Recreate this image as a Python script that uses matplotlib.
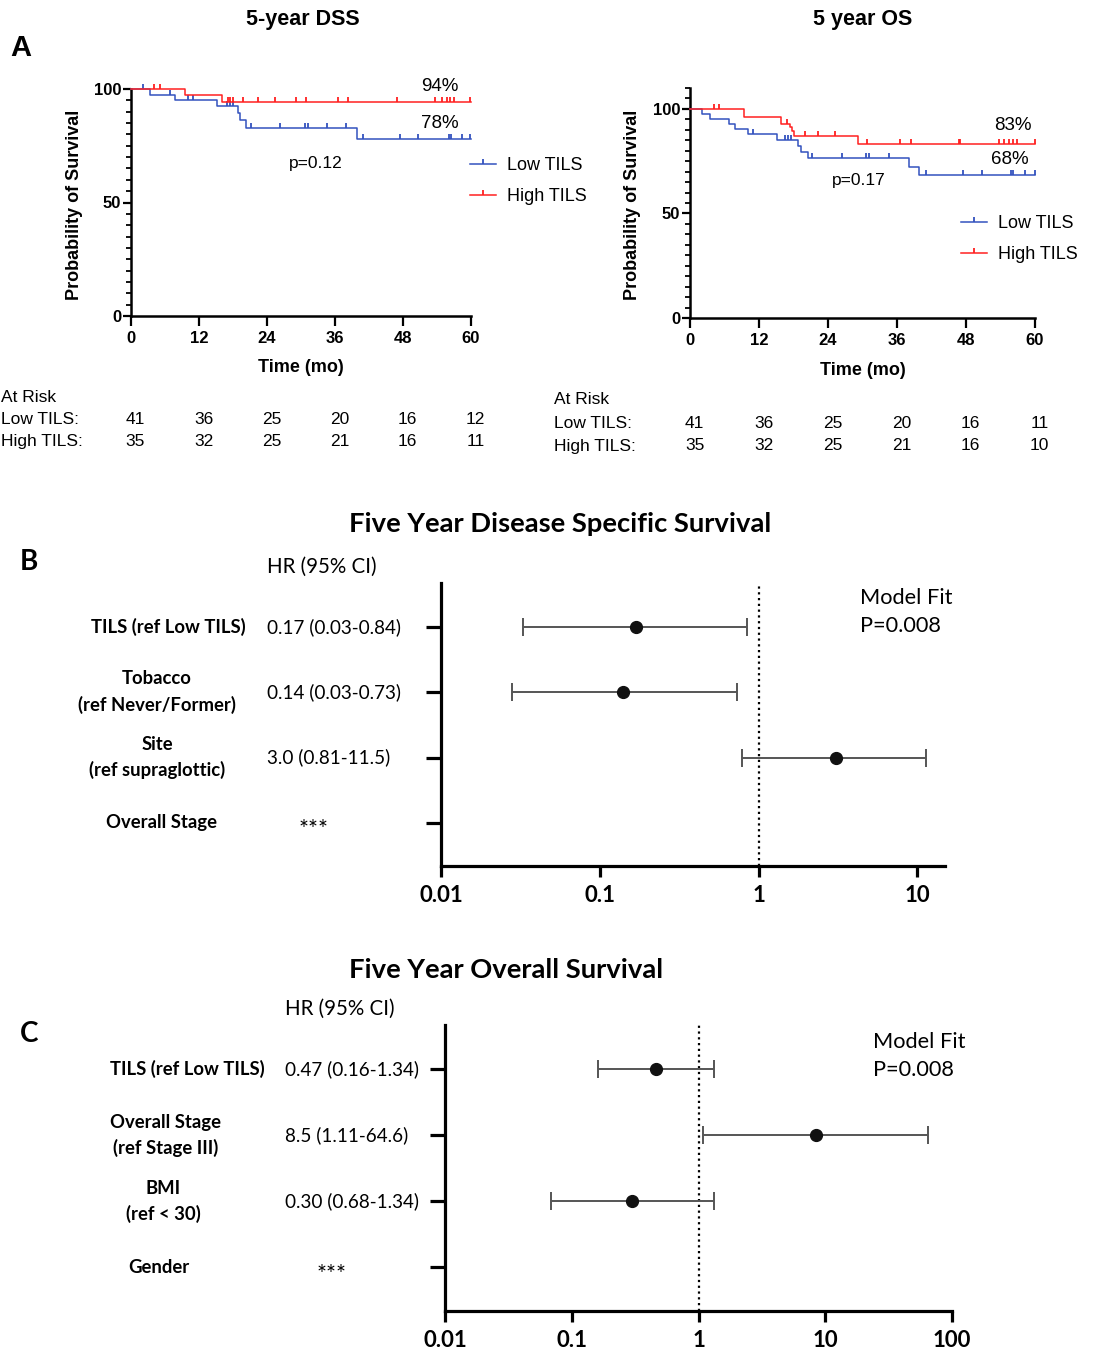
import numpy as np
import matplotlib
matplotlib.use('Agg')
import matplotlib.pyplot as plt
from matplotlib.lines import Line2D
from matplotlib.ticker import MultipleLocator, NullLocator
from matplotlib.transforms import blended_transform_factory

# ---- Kaplan-Meier data ----
dss_low_t = [0, 3.4, 7.7, 15.1, 18.8, 19.3, 20.3, 39.8]
dss_low_s = [100, 97.5, 95.0, 92.4, 89.6, 86.3, 83.0, 77.8]
dss_low_cens = [2.1, 6.9, 10.0, 10.9, 16.9, 17.4, 18.0, 21.2, 26.3, 30.7, 31.3,
                34.6, 37.9, 40.9, 47.4, 50.7, 56.2, 56.5, 58.4, 59.9]
dss_high_t = [0, 9.5, 16.0]
dss_high_s = [100, 97.2, 94.2]
dss_high_cens = [4.1, 5.1, 17.1, 17.5, 18.0, 19.8, 22.4, 25.4, 29.1, 30.9, 36.6,
                 38.3, 46.9, 53.6, 54.8, 55.7, 56.3, 57.0, 59.8]

os_low_t = [0, 2.0, 3.5, 6.8, 7.8, 10.0, 15.1, 18.8, 19.3, 20.5, 38.0, 39.9]
os_low_s = [100, 97.6, 95.1, 92.7, 90.2, 87.8, 85.3, 82.3, 79.3, 76.3, 72.4, 68.4]
os_low_cens = [10.9, 16.5, 17.0, 17.5, 21.3, 26.4, 30.6, 31.2, 34.6, 41.0, 47.4,
               50.7, 55.9, 56.2, 58.3, 60.0]
os_high_t = [0, 9.4, 15.9, 17.4, 17.7, 18.0, 29.3]
os_high_s = [100, 96.0, 93.0, 91.2, 89.2, 87.0, 83.2]
os_high_cens = [4.2, 5.1, 16.8, 20.0, 22.3, 25.3, 30.8, 36.5, 38.4, 46.8, 47.0,
                53.7, 54.6, 55.4, 56.1, 56.8, 60.0]

risk_times = [0, 12, 24, 36, 48, 60]
dss_risk_low = [41, 36, 25, 20, 16, 12]
dss_risk_high = [35, 32, 25, 21, 16, 11]
os_risk_low = [41, 36, 25, 20, 16, 11]
os_risk_high = [35, 32, 25, 21, 16, 10]

# ---- Cox model data ----
dss_vars = ['TILS (ref Low TILS)', 'Tobacco\n(ref Never/Former)',
            'Site\n(ref supraglottic)', 'Overall Stage']
dss_hr = [0.17, 0.14, 3.05]
dss_lo = [0.033, 0.028, 0.79]
dss_hi = [0.84, 0.73, 11.3]
dss_hr_text = ['0.17 (0.03-0.84)', '0.14 (0.03-0.73)', '3.0 (0.81-11.5)', '***']

os_vars = ['TILS (ref Low TILS)', 'Overall Stage\n(ref Stage III)',
           'BMI\n(ref < 30)', 'Gender']
os_hr = [0.46, 8.4, 0.30]
os_lo = [0.16, 1.09, 0.068]
os_hi = [1.33, 65.0, 1.33]
os_hr_text = ['0.47 (0.16-1.34)', '8.5 (1.11-64.6)', '0.30 (0.68-1.34)', '***']

W, H = 1093, 1351
fig = plt.figure(figsize=(W / 100, H / 100), dpi=100)


def fx(x):
    return x / W


def fy(y):
    return 1 - y / H


def box(l, t, r, b):
    return [fx(l), fy(b), (r - l) / W, (b - t) / H]


ARIAL = 'Liberation Sans'
CALI = 'Lato'
BLUE = '#3352BE'
RED = '#FF2020'


def km_line(ax, t, s, cens, color):
    tt = list(t) + [60]
    ss = list(s) + [s[-1]]
    ax.step(tt, ss, where='post', color=color, lw=1.1, clip_on=False, zorder=3)
    idx = np.searchsorted(t, cens, side='right') - 1
    ax.plot(cens, np.array(s)[idx], ls='none', marker=2, ms=3.5, mew=1.3,
            color=color, clip_on=False, zorder=3)


def km_panel(ax, low, high, ytop, pct, ptxt, legpos, title, title_xy, risk,
             risk_x, risk_y):
    km_line(ax, *low, BLUE)
    km_line(ax, *high, RED)
    ax.set_xlim(0, 60)
    ax.set_ylim(0, ytop)
    ax.set_xticks(risk_times)
    ax.set_yticks([0, 50, 100])
    ax.yaxis.set_minor_locator(MultipleLocator(5))
    for sp in ['top', 'right']:
        ax.spines[sp].set_visible(False)
    for sp in ['left', 'bottom']:
        ax.spines[sp].set_linewidth(1.8)
    ax.tick_params(axis='y', which='major', length=6, width=1.6, pad=1)
    ax.tick_params(axis='y', which='minor', length=3.5, width=1.3)
    ax.tick_params(axis='x', length=7, width=1.6, pad=4)
    for lab in ax.get_xticklabels() + ax.get_yticklabels():
        lab.set_fontfamily(ARIAL)
        lab.set_fontweight('bold')
        lab.set_fontsize(12)
    ax.set_ylabel('Probability of Survival', fontfamily=ARIAL, fontweight='bold',
                  fontsize=13)
    ax.yaxis.set_label_coords(-0.142, 0.49)
    ax.set_xlabel('Time (mo)', fontfamily=ARIAL, fontweight='bold', fontsize=13)
    ax.xaxis.set_label_coords(0.5, -0.19)
    for (x, y, s) in pct:
        ax.text(x, y, s, ha='center', va='center', fontfamily=ARIAL, fontsize=13.5)
    ax.text(ptxt[0], ptxt[1], ptxt[2], ha='center', va='center',
            fontfamily=ARIAL, fontsize=12.5)
    handles = [Line2D([0], [0], color=BLUE, lw=1.1, marker=2, ms=3.5, mew=1.3),
               Line2D([0], [0], color=RED, lw=1.1, marker=2, ms=3.5, mew=1.3)]
    ax.legend(handles, ['Low TILS', 'High TILS'], loc='upper left',
              bbox_to_anchor=legpos, bbox_transform=fig.transFigure,
              frameon=False, prop={'family': ARIAL, 'size': 13},
              handlelength=1.45, handletextpad=0.6, labelspacing=0.8,
              borderpad=0, borderaxespad=0, numpoints=1)
    fig.text(fx(title_xy[0]), fy(title_xy[1]), title, fontfamily=ARIAL,
             fontweight='bold', fontsize=15.5, ha='center', va='center')
    # at risk table
    tr = blended_transform_factory(ax.transData, fig.transFigure)
    for row, lab in zip(risk_y, ['At Risk', 'Low TILS:', 'High TILS:']):
        fig.text(risk_x, fy(row), lab, fontfamily=ARIAL, fontsize=12.5,
                 va='center', ha='left')
    for row, vals in zip(risk_y[1:], risk):
        for t, v in zip(risk_times, vals):
            ax.text(t + 0.8, fy(row), str(v), transform=tr, ha='center',
                    va='center', fontfamily=ARIAL, fontsize=12.5)


# ---- Panel A ----
ax1 = fig.add_axes(box(131, 89, 471, 316))
km_panel(ax1, (dss_low_t, dss_low_s, dss_low_cens),
         (dss_high_t, dss_high_s, dss_high_cens), 100,
         [(54.5, 101.3, '94%'), (54.5, 85.0, '78%')], (32.6, 67.4, 'p=0.12'),
         (fx(470), fy(157)), '5-year DSS', (303, 20),
         (dss_risk_low, dss_risk_high), fx(1), (397, 419, 441))

ax2 = fig.add_axes(box(690, 88, 1035, 318))
km_panel(ax2, (os_low_t, os_low_s, os_low_cens),
         (os_high_t, os_high_s, os_high_cens), 110,
         [(56.2, 92.3, '83%'), (55.7, 75.6, '68%')], (29.4, 66.0, 'p=0.17'),
         (fx(961), fy(215)), '5 year OS', (863, 20),
         (os_risk_low, os_risk_high), fx(554), (400, 424, 446))

fig.text(fx(10), fy(48), 'A', fontfamily=ARIAL, fontweight='bold', fontsize=21,
         va='center', ha='left')


# ---- Forest plots ----
def forest(ax, vars_, hr, lo, hi, hr_text, xmax, ticks, ticklabels, title,
           title_xy, letter, letter_y, text_left, label_x, fit_xy):
    rows = np.arange(1, len(vars_) + 1)
    n = len(hr)
    hr = np.array(hr)
    err = [hr - np.array(lo), np.array(hi) - hr]
    ax.errorbar(hr, rows[:n], xerr=err, fmt='o', color='#111111', ms=8.5,
                ecolor='#555555', elinewidth=1.4, capsize=6.5, capthick=1.4,
                zorder=3)
    ax.set_xscale('log')
    ax.set_xlim(0.01, xmax)
    ax.set_ylim(len(vars_) + 0.66, 0.33)
    ax.axvline(1, color='black', ls=(0, (1, 1.6)), lw=1.6, zorder=2)
    ax.set_xticks(ticks)
    ax.set_xticklabels(ticklabels)
    ax.xaxis.set_minor_locator(NullLocator())
    ax.set_yticks(rows)
    ax.set_yticklabels([])
    for sp in ['top', 'right']:
        ax.spines[sp].set_visible(False)
    for sp in ['left', 'bottom']:
        ax.spines[sp].set_linewidth(2.3)
    ax.tick_params(axis='y', length=11, width=2.3)
    ax.tick_params(axis='x', length=8, width=2.3, pad=5.5)
    for lab in ax.get_xticklabels():
        lab.set_fontfamily(CALI)
        lab.set_fontweight('bold')
        lab.set_fontsize(16)
    tr = blended_transform_factory(fig.transFigure, ax.transData)
    for r, name, txt, lx in zip(rows, vars_, hr_text, label_x):
        ax.text(fx(lx), r, name, transform=tr, ha='center', va='center',
                multialignment='center', fontfamily=CALI, fontweight='bold',
                fontsize=13.3, linespacing=1.55)
        if txt == '***':
            ax.text(fx(text_left + 47), r + 0.1, txt, transform=tr, ha='center',
                    va='center', fontfamily=CALI, fontsize=17)
        else:
            ax.text(fx(text_left), r, txt, transform=tr, ha='left', va='center',
                    fontfamily=CALI, fontsize=13.6)
    bb = ax.get_position()
    fig.text(fx(text_left), bb.y1 + 16 / H, 'HR (95% CI)', fontfamily=CALI,
             fontsize=14.8, ha='left', va='center')
    fig.text(fx(title_xy[0]), fy(title_xy[1]), title, fontfamily=CALI,
             fontweight='bold', fontsize=19.7, ha='center', va='center')
    fig.text(fx(20), fy(letter_y), letter, fontfamily=CALI, fontweight='bold',
             fontsize=20, ha='left', va='center')
    fig.text(fx(fit_xy[0]), fy(fit_xy[1]), 'Model Fit\nP=0.008', fontfamily=CALI,
             fontsize=15.7, ha='left', va='center', linespacing=1.55)


ax3 = fig.add_axes(box(441, 583, 945, 866))
forest(ax3, dss_vars, dss_hr, dss_lo, dss_hi, dss_hr_text, 14.9,
       [0.01, 0.1, 1, 10], ['0.01', '0.1', '1', '10'],
       'Five Year Disease Specific Survival', (560, 524), 'B', 562, 267,
       [168, 157, 157, 162], (860, 612))

ax4 = fig.add_axes(box(445, 1025, 952, 1311))
forest(ax4, os_vars, os_hr, os_lo, os_hi, os_hr_text, 100,
       [0.01, 0.1, 1, 10, 100], ['0.01', '0.1', '1', '10', '100'],
       'Five Year Overall Survival', (506, 970), 'C', 1034, 285,
       [187, 166, 163, 159], (873, 1056))

fig.savefig('out.png', dpi=100)
